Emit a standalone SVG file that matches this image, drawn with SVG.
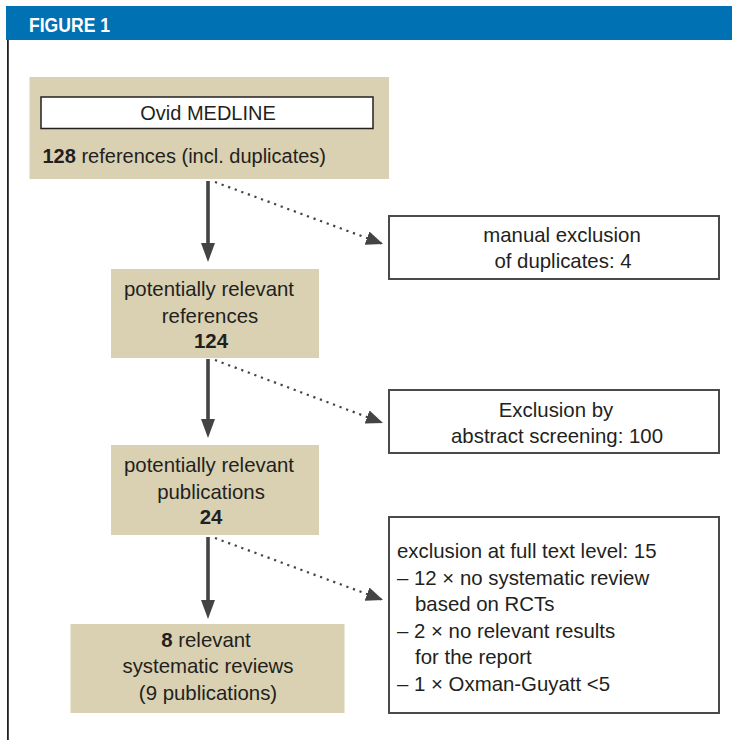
<svg xmlns="http://www.w3.org/2000/svg" width="732" height="740" viewBox="0 0 732 740">
<style>
text{font-family:"Liberation Sans",Arial,sans-serif;font-size:20.4px;fill:#231f20}
.c{text-anchor:middle}
.b{font-weight:bold}
.beige{fill:#d9d1b2;stroke:none}
.wbox{fill:#ffffff;stroke:#4a4a4a;stroke-width:2}
.solid{stroke:#444;stroke-width:3.6;fill:none}
.dot{stroke:#444;stroke-width:2.2;stroke-dasharray:2.2 4.8;fill:none}
</style>
<defs>
<marker id="ah" viewBox="0 0 19 14" refX="4" refY="7" markerWidth="19" markerHeight="14" markerUnits="userSpaceOnUse" orient="auto">
<path d="M0,0 L19,7 L0,14 z" fill="#444"/>
</marker>
<marker id="ahd" viewBox="0 0 17 14" refX="17" refY="7" markerWidth="17" markerHeight="14" markerUnits="userSpaceOnUse" orient="auto">
<path d="M0,0 L17,7 L0,14 z" fill="#444"/>
</marker>
</defs>
<rect width="732" height="740" fill="#ffffff"/>
<g id="header">
<rect x="6" y="6" width="726" height="34" fill="#0071b3"/>
<text x="29" y="31.5" class="b" style="font-size:21px;fill:#ffffff" textLength="81" lengthAdjust="spacingAndGlyphs">FIGURE 1</text>
<line x1="7.9" y1="40" x2="7.9" y2="740" stroke="#231f20" stroke-width="1.8"/>
</g>
<g id="connectors">
<line class="solid" x1="208" y1="181" x2="208" y2="247" marker-end="url(#ah)"/>
<line class="solid" x1="208" y1="359" x2="208" y2="423" marker-end="url(#ah)"/>
<line class="solid" x1="208" y1="537" x2="208" y2="604" marker-end="url(#ah)"/>
<line class="dot" x1="215" y1="182" x2="383" y2="244" marker-end="url(#ahd)"/>
<line class="dot" x1="215" y1="360" x2="383" y2="423" marker-end="url(#ahd)"/>
<line class="dot" x1="215" y1="538" x2="383" y2="600" marker-end="url(#ahd)"/>
</g>
<g id="medline">
<rect class="beige" x="29.5" y="77" width="359.5" height="102"/>
<rect x="41" y="97" width="332" height="31.5" fill="#ffffff" stroke="#231f20" stroke-width="1.5"/>
<text class="c" x="208" y="120" style="font-size:20px">Ovid MEDLINE</text>
<text x="42.5" y="163" style="font-size:20px"><tspan class="b">128</tspan> references (incl. duplicates)</text>
</g>
<g id="dup">
<rect class="wbox" x="389" y="216" width="330" height="63"/>
<text class="c" x="562" y="242">manual exclusion</text>
<text class="c" x="563" y="268">of duplicates: 4</text>
</g>
<g id="references">
<rect class="beige" x="111" y="269" width="208" height="89"/>
<text class="c" x="209" y="296">potentially relevant</text>
<text class="c" x="210" y="322.5">references</text>
<text class="c b" x="211" y="348">124</text>
</g>
<g id="abstract">
<rect class="wbox" x="389" y="390" width="330" height="63"/>
<text class="c" x="556" y="416.5">Exclusion by</text>
<text class="c" x="557" y="442.5">abstract screening: 100</text>
</g>
<g id="publications">
<rect class="beige" x="111" y="445" width="208" height="90"/>
<text class="c" x="209" y="472">potentially relevant</text>
<text class="c" x="211" y="498.5">publications</text>
<text class="c b" x="211" y="523.5">24</text>
</g>
<g id="fulltext">
<rect class="wbox" x="389" y="517" width="330" height="196"/>
<text x="397" y="558">exclusion at full text level: 15</text>
<text x="397" y="584.5">– 12 × no systematic review</text>
<text x="415" y="610.5">based on RCTs</text>
<text x="397" y="637.5">– 2 × no relevant results</text>
<text x="415" y="664">for the report</text>
<text x="397" y="690.5">– 1 × Oxman-Guyatt &lt;5</text>
</g>
<g id="reviews">
<rect class="beige" x="70.5" y="624" width="274" height="89"/>
<text class="c" x="206" y="647"><tspan class="b">8</tspan> relevant</text>
<text class="c" x="208" y="673">systematic reviews</text>
<text class="c" x="208" y="700">(9 publications)</text>
</g>
</svg>
